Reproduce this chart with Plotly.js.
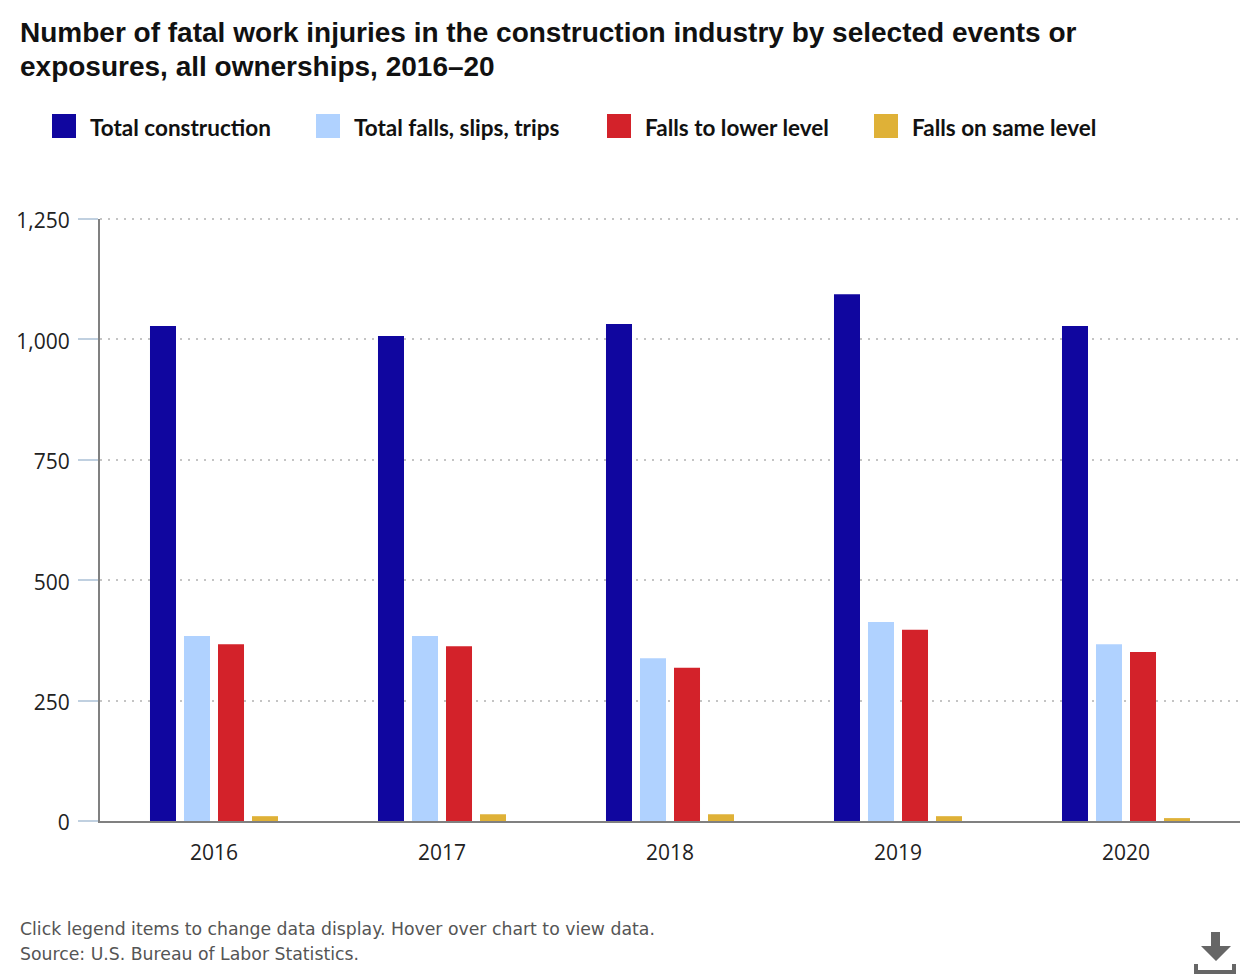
<!DOCTYPE html>
<html>
<head>
<meta charset="utf-8">
<script src="https://cdn.plot.ly/plotly-3.0.1.min.js"></script>
<style>
  html, body { margin: 0; padding: 0; background: #fff; }
</style>
</head>
<body>
<div id="chart" style="width:1260px;height:980px"></div>
<script>
const years = ['2016', '2017', '2018', '2019', '2020'];
const series_names = ['Total construction', 'Total falls, slips, trips', 'Falls to lower level', 'Falls on same level'];
const series_colors = ['#10069f', '#b0d2ff', '#d3222a', '#dfb137'];
const total_construction = [1028, 1007, 1032, 1094, 1028];
const total_falls = [384, 384, 338, 413, 367];
const falls_lower = [367, 363, 318, 397, 351];
const falls_same = [10, 14, 14, 10, 6];
const y_ticks = [0, 250, 500, 750, 1000, 1250];
const title_lines = ['Number of fatal work injuries in the construction industry by selected events or',
                     'exposures, all ownerships, 2016–20'];

const values = [total_construction, total_falls, falls_lower, falls_same];

// plot area in page pixels
const left = 100, right = 1240, top_y = 219, bottom_y = 821;
const px = x => (x - left) / (right - left);
const py = y => (bottom_y - y) / (bottom_y - top_y);

const data = series_names.map((name, i) => ({
  x: years,
  y: values[i],
  name: name,
  type: 'bar',
  marker: {color: series_colors[i]},
  hovertemplate: '%{x}<br>' + name + ': %{y:,}<extra></extra>'
}));

const swatch_x = [52, 316, 607, 874];
const label_x = [89, 353, 644, 911];

const shapes = swatch_x.map((x, i) => ({
  type: 'rect', xref: 'paper', yref: 'paper',
  x0: px(x), x1: px(x + 24), y0: py(138), y1: py(114),
  fillcolor: series_colors[i], line: {width: 0}
}));

// plotly drops the gridline at the very end of the range, so add the top one
shapes.push({
  type: 'line', xref: 'paper', yref: 'paper', layer: 'below',
  x0: 0, x1: 1, y0: 1, y1: 1,
  line: {color: '#c4c4c4', width: 2, dash: '2px,6px'}
});

// download icon
shapes.push({
  type: 'path', xref: 'paper', yref: 'paper',
  path: 'M' + px(1211) + ',' + py(932) + ' L' + px(1220) + ',' + py(932) +
        ' L' + px(1220) + ',' + py(946) + ' L' + px(1231) + ',' + py(946) +
        ' L' + px(1216) + ',' + py(961) + ' L' + px(1201) + ',' + py(946) +
        ' L' + px(1211) + ',' + py(946) + ' Z',
  fillcolor: '#666666', line: {width: 0}
});
shapes.push({
  type: 'path', xref: 'paper', yref: 'paper',
  path: 'M' + px(1194) + ',' + py(964) + ' L' + px(1198) + ',' + py(964) +
        ' L' + px(1198) + ',' + py(970) + ' L' + px(1232) + ',' + py(970) +
        ' L' + px(1232) + ',' + py(964) + ' L' + px(1236) + ',' + py(964) +
        ' L' + px(1236) + ',' + py(974) + ' L' + px(1194) + ',' + py(974) + ' Z',
  fillcolor: '#666666', line: {width: 0}
});

const annotations = series_names.map((name, i) => ({
  text: '<b>' + name + '</b>',
  xref: 'paper', yref: 'paper',
  x: px(label_x[i]), y: py(128),
  xanchor: 'left', yanchor: 'middle',
  showarrow: false, borderpad: 0, captureevents: true,
  font: {family: 'Lato, sans-serif', size: 22.5, color: '#111111'}
}));

// second title line sits closer than plotly's own line height
annotations.push({
  text: '<b>' + title_lines[1] + '</b>',
  xref: 'paper', yref: 'paper',
  x: px(19), y: py(66),
  xanchor: 'left', yanchor: 'middle',
  showarrow: false, borderpad: 0,
  font: {family: '"Liberation Sans", Arial, sans-serif', size: 28, color: '#111111'}
});

const notes = [['Click legend items to change data display. Hover over chart to view data.', 929.5],
               ['Source: U.S. Bureau of Labor Statistics.', 953.5]];
notes.forEach(n => {
  annotations.push({
    text: n[0],
    xref: 'paper', yref: 'paper',
    x: px(19), y: py(n[1]),
    xanchor: 'left', yanchor: 'middle',
    showarrow: false, borderpad: 0,
    font: {family: '"DejaVu Sans", sans-serif', size: 17.3, color: '#555555'}
  });
});

const layout = {
  width: 1260,
  height: 980,
  margin: {l: left, r: 1260 - right, t: top_y, b: 980 - bottom_y, pad: 0},
  paper_bgcolor: '#ffffff',
  plot_bgcolor: '#ffffff',
  showlegend: false,
  hovermode: 'closest',
  barmode: 'group',
  bargap: 0.4035,
  bargroupgap: 0.235,
  title: {
    text: '<b>' + title_lines[0] + '</b>',
    x: 20 / 1260, xanchor: 'left',
    y: 1 - 32 / 980, yanchor: 'middle',
    font: {family: '"Liberation Sans", Arial, sans-serif', size: 28, color: '#111111'}
  },
  xaxis: {
    type: 'category',
    showgrid: false,
    showline: true, linecolor: '#808080', linewidth: 2,
    ticks: '', ticklabelstandoff: 12,
    tickfont: {family: '"Open Sans", sans-serif', size: 21, color: '#222222'}
  },
  yaxis: {
    range: [0, 1250],
    tickvals: y_ticks,
    tickformat: ',',
    showgrid: true, gridcolor: '#c4c4c4', gridwidth: 2, griddash: '2px,6px',
    zeroline: false,
    showline: true, linecolor: '#808080', linewidth: 2,
    ticks: 'outside', ticklen: 20, tickwidth: 2, tickcolor: '#c0d0e0',
    ticklabelstandoff: 4, ticklabelshift: 2,
    tickfont: {family: '"Open Sans", sans-serif', size: 21, color: '#222222'}
  },
  shapes: shapes,
  annotations: annotations
};

const config = {displayModeBar: false};

Plotly.newPlot('chart', data, layout, config).then(gd => {
  // legend items toggle their series, as the caption says
  gd.on('plotly_clickannotation', e => {
    const i = series_names.findIndex(n => e.annotation.text.includes(n));
    if (i < 0) return;
    Plotly.restyle(gd, {visible: gd.data[i].visible === 'legendonly' ? true : 'legendonly'}, [i]);
  });
});
</script>
</body>
</html>
